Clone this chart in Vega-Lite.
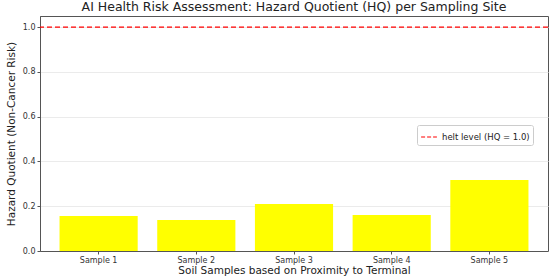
{
  "$schema": "https://vega.github.io/schema/vega-lite/v6.json",
  "width": 508,
  "height": 235,
  "autosize": {"type": "none"},
  "padding": {"left": 40, "top": 16, "right": 2, "bottom": 26},
  "background": "white",
  "title": {"text": "AI Health Risk Assessment: Hazard Quotient (HQ) per Sampling Site", "font": "DejaVu Sans", "fontSize": 12.5, "fontWeight": "normal", "color": "#222", "offset": 3},
  "config": {
    "view": {"stroke": "#555", "strokeWidth": 1},
    "axis": {"labelFont": "DejaVu Sans", "titleFont": "DejaVu Sans", "labelFontSize": 8, "titleFontSize": 10.5, "titleFontWeight": "normal", "labelColor": "#333", "titleColor": "#222", "tickColor": "#555", "domainColor": "#555", "tickSize": 3}
  },
  "layer": [
    {
      "data": {"values": [
        {"sample": "Sample 1", "hq": 0.156},
        {"sample": "Sample 2", "hq": 0.138},
        {"sample": "Sample 3", "hq": 0.21},
        {"sample": "Sample 4", "hq": 0.161},
        {"sample": "Sample 5", "hq": 0.317}
      ]},
      "mark": {"type": "bar", "color": "#ffff00"},
      "encoding": {
        "x": {"field": "sample", "type": "nominal", "sort": null, "scale": {"paddingInner": 0.2, "paddingOuter": 0.2}, "axis": {"title": "Soil Samples based on Proximity to Terminal", "labelAngle": 0, "titlePadding": 1, "labelPadding": 2, "grid": false}},
        "y": {"field": "hq", "type": "quantitative", "scale": {"domain": [0, 1.05], "nice": false}, "axis": {"title": "Hazard Quotient (Non-Cancer Risk)", "format": ".1f", "values": [0, 0.2, 0.4, 0.6, 0.8, 1.0], "grid": true, "gridColor": "#ebebeb", "titlePadding": 6, "labelPadding": 2}}
      }
    },
    {
      "data": {"values": [{"label": "helt level (HQ = 1.0)", "hq": 1.0}]},
      "mark": {"type": "rule", "strokeDash": [5, 3], "strokeWidth": 1.2},
      "encoding": {
        "y": {"field": "hq", "type": "quantitative"},
        "color": {"field": "label", "type": "nominal", "scale": {"range": ["#ff0000"]}, "legend": {"title": null, "orient": "none", "legendX": 377, "legendY": 109, "symbolType": "stroke", "symbolDash": [4, 2], "symbolStrokeWidth": 1.2, "symbolSize": 250, "labelFont": "DejaVu Sans", "labelFontSize": 8.5, "labelColor": "#222", "strokeColor": "#ccc", "padding": 3, "cornerRadius": 2, "fillColor": "white"}}
      }
    }
  ]
}
